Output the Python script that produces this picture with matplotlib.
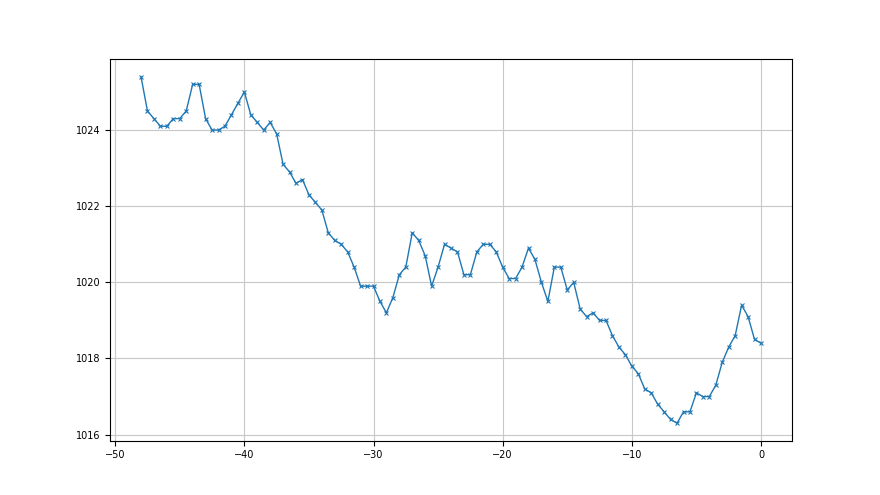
import numpy as np
import matplotlib
matplotlib.use("Agg")
import matplotlib.pyplot as plt

# hours before now, half-hour steps
hours = np.arange(-48, 0.5, 0.5)

# pressure readings (hPa)
pressure = [
    1025.4, 1024.5, 1024.3, 1024.1, 1024.1, 1024.3, 1024.3, 1024.5, 1025.2, 1025.2,
    1024.3, 1024.0, 1024.0, 1024.1, 1024.4, 1024.7, 1025.0, 1024.4, 1024.2, 1024.0,
    1024.2, 1023.9, 1023.1, 1022.9, 1022.6, 1022.7, 1022.3, 1022.1, 1021.9, 1021.3,
    1021.1, 1021.0, 1020.8, 1020.4, 1019.9, 1019.9, 1019.9, 1019.5, 1019.2, 1019.6,
    1020.2, 1020.4, 1021.3, 1021.1, 1020.7, 1019.9, 1020.4, 1021.0, 1020.9, 1020.8,
    1020.2, 1020.2, 1020.8, 1021.0, 1021.0, 1020.8, 1020.4, 1020.1, 1020.1, 1020.4,
    1020.9, 1020.6, 1020.0, 1019.5, 1020.4, 1020.4, 1019.8, 1020.0, 1019.3, 1019.1,
    1019.2, 1019.0, 1019.0, 1018.6, 1018.3, 1018.1, 1017.8, 1017.6, 1017.2, 1017.1,
    1016.8, 1016.6, 1016.4, 1016.3, 1016.6, 1016.6, 1017.1, 1017.0, 1017.0, 1017.3,
    1017.9, 1018.3, 1018.6, 1019.4, 1019.1, 1018.5, 1018.4,
]

fig = plt.figure(figsize=(8.8, 4.95), dpi=100)
ax = fig.add_subplot(111)
ax.plot(hours, pressure, marker="x", markersize=3.5, markeredgewidth=0.8,
        linewidth=1, color="C0")
ax.grid(True, color="#c8c8c8", linewidth=0.8)
ax.tick_params(labelsize=7)

fig.savefig("out.png", dpi=100)
